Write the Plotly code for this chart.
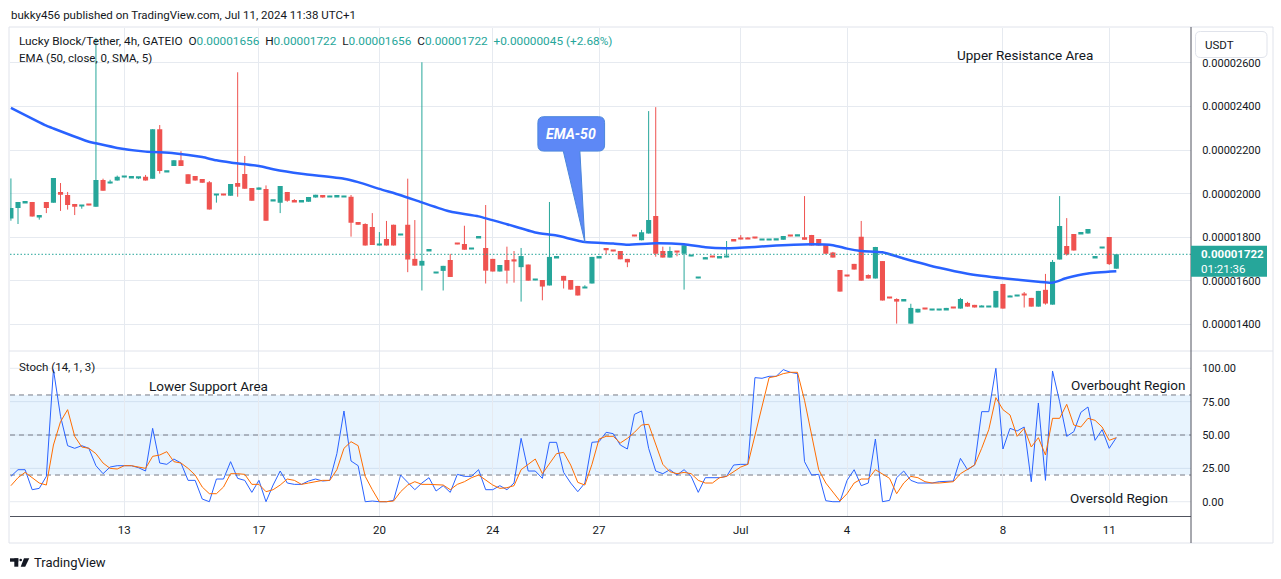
import plotly.graph_objects as go

W, H = 1281, 579
UNIT = 1e-8  # prices below are in units of 0.00000001 USDT

# ---------------- 4h candles (Lucky Block / Tether) ----------------
opens = [1886, 1934, 1959, 1962, 1895, 1962, 1959, 2008, 1994, 1953,
         1944, 1948, 1940, 2063, 2048, 2060, 2075, 2074, 2073, 2078,
         2069, 2296, 2101, 2127, 2154, 2089, 2081, 2067, 2053, 1994,
         1995, 1991, 2049, 2090, 2026, 2018, 2021, 1967, 1959, 2008,
         1971, 1964, 1963, 1982, 1994, 1985, 1987, 1985, 1986, 1870,
         1861, 1847, 1764, 1792, 1858, 1810, 1858, 1701, 1670, 1739,
         1634, 1646, 1696, 1769, 1769, 1746, 1799, 1751, 1701, 1643,
         1696, 1693, 1663, 1675, 1603, 1604, 1579, 1707, 1623, 1604,
         1577, 1567, 1588, 1707, 1751, 1737, 1737, 1701, 1806, 1786,
         1817, 1898, 1737, 1707, 1732, 1725, 1712, 1611, 1702, 1709,
         1707, 1708, 1792, 1796, 1793, 1796, 1788, 1788, 1789, 1789,
         1806, 1807, 1800, 1811, 1792, 1769, 1730, 1650, 1622, 1678,
         1802, 1627, 1611, 1691, 1521, 1517, 1510, 1404, 1455, 1471,
         1465, 1465, 1468, 1476, 1473, 1499, 1490, 1480, 1480, 1478,
         1586, 1526, 1530, 1535, 1522, 1482, 1559, 1491, 1698, 1760,
         1815, 1817, 1817, 1707, 1749, 1801, 1656]
highs = [2070, 1962, 1961, 1962, 1902, 1962, 2072, 2049, 2008, 1953,
         1947, 1948, 2715, 2069, 2064, 2083, 2077, 2075, 2075, 2086,
         2296, 2315, 2102, 2154, 2195, 2089, 2081, 2067, 2058, 1997,
         1999, 2044, 2557, 2173, 2026, 2029, 2038, 1968, 2035, 2008,
         1975, 1965, 1985, 1995, 1994, 1990, 1988, 1990, 1994, 1870,
         1864, 1911, 1824, 1875, 1858, 1811, 2069, 1879, 2603, 1740,
         1635, 1669, 1724, 1769, 1853, 1747, 1800, 1948, 1701, 1673,
         1757, 1737, 1751, 1675, 1604, 1604, 1962, 1708, 1623, 1604,
         1577, 1580, 1710, 1708, 1751, 1737, 1737, 1701, 1806, 1834,
         2379, 2397, 1757, 1757, 1732, 1763, 1713, 1612, 1709, 1709,
         1708, 1783, 1792, 1810, 1800, 1800, 1789, 1789, 1790, 1806,
         1806, 1811, 1989, 1811, 1792, 1769, 1733, 1650, 1625, 1678,
         1875, 1630, 1756, 1691, 1521, 1520, 1511, 1495, 1472, 1471,
         1466, 1466, 1476, 1479, 1522, 1504, 1490, 1488, 1485, 1554,
         1586, 1533, 1531, 1549, 1522, 1554, 1632, 1696, 1989, 1888,
         1815, 1818, 1838, 1708, 1750, 1801, 1722]
lows = [1876, 1861, 1959, 1895, 1881, 1911, 1959, 1921, 1927, 1902,
        1931, 1947, 1940, 2014, 2047, 2060, 2075, 2074, 2067, 2060,
        2069, 2092, 2101, 2127, 2127, 2046, 2060, 2050, 1927, 1959,
        1993, 1991, 1986, 2023, 1968, 2018, 1876, 1967, 1911, 1963,
        1963, 1964, 1963, 1982, 1982, 1985, 1987, 1985, 1803, 1858,
        1762, 1765, 1762, 1762, 1762, 1810, 1640, 1670, 1556, 1739,
        1634, 1556, 1618, 1768, 1743, 1746, 1799, 1588, 1643, 1643,
        1588, 1592, 1505, 1601, 1603, 1511, 1579, 1707, 1565, 1560,
        1533, 1567, 1588, 1707, 1722, 1736, 1699, 1663, 1805, 1786,
        1817, 1711, 1707, 1707, 1713, 1560, 1712, 1611, 1702, 1708,
        1707, 1708, 1785, 1790, 1792, 1795, 1788, 1788, 1789, 1789,
        1805, 1807, 1789, 1762, 1762, 1725, 1707, 1551, 1621, 1652,
        1601, 1611, 1611, 1510, 1520, 1404, 1510, 1404, 1455, 1470,
        1465, 1465, 1468, 1475, 1473, 1482, 1478, 1480, 1480, 1478,
        1473, 1526, 1530, 1478, 1482, 1482, 1491, 1491, 1698, 1716,
        1739, 1817, 1817, 1707, 1749, 1673, 1656]
closes = [1934, 1962, 1960, 1895, 1902, 1934, 2072, 1995, 1948, 1940,
          1947, 1947, 2063, 2014, 2050, 2078, 2077, 2075, 2075, 2060,
          2296, 2104, 2102, 2154, 2127, 2046, 2060, 2050, 1927, 1997,
          1993, 2044, 2032, 2023, 1968, 2029, 1876, 1968, 2035, 1968,
          1963, 1965, 1985, 1995, 1982, 1986, 1988, 1986, 1867, 1858,
          1762, 1765, 1765, 1762, 1762, 1811, 1698, 1670, 1692, 1740,
          1635, 1669, 1618, 1768, 1743, 1747, 1800, 1647, 1643, 1673,
          1647, 1692, 1714, 1601, 1604, 1574, 1710, 1708, 1601, 1560,
          1533, 1568, 1710, 1708, 1740, 1736, 1699, 1685, 1805, 1823,
          1879, 1725, 1707, 1737, 1731, 1763, 1713, 1612, 1709, 1708,
          1708, 1713, 1785, 1790, 1792, 1795, 1789, 1789, 1790, 1806,
          1805, 1808, 1789, 1762, 1762, 1725, 1707, 1551, 1621, 1652,
          1601, 1611, 1756, 1510, 1520, 1505, 1511, 1476, 1472, 1470,
          1466, 1466, 1476, 1475, 1517, 1482, 1478, 1481, 1481, 1554,
          1473, 1527, 1531, 1534, 1482, 1554, 1496, 1687, 1852, 1721,
          1739, 1818, 1838, 1708, 1750, 1677, 1722]

# EMA(50) at a set of bars
ema_idx = [0, 5, 6, 11, 12, 15, 19, 23, 27, 29, 31, 35, 37, 41, 47, 49, 52, 55,
           58, 62, 66, 70, 74, 77, 81, 85, 87, 91, 95, 98, 101, 105, 108, 113,
           116, 118, 120, 123, 126, 131, 135, 140, 145, 147, 149, 152, 156]
ema_val = [2394, 2312, 2299, 2238, 2231, 2210, 2193, 2186, 2168, 2153, 2143,
           2127, 2112, 2091, 2069, 2053, 2022, 1993, 1960, 1918, 1896, 1860,
           1822, 1808, 1778, 1771, 1766, 1773, 1768, 1754, 1750, 1756, 1762,
           1768, 1764, 1748, 1737, 1731, 1703, 1660, 1633, 1612, 1596, 1592,
           1613, 1634, 1644]

# Stochastic (14, 1, 3)
stoch_k = [19, 24, 24, 9, 10, 19, 99, 64, 42, 40, 42, 40, 27, 21, 26, 27, 27, 27,
           25.5, 23, 55, 29, 28, 32, 29, 16, 16, 2, 0, 17, 17, 30, 17.5, 16, 7,
           16, 0, 12.5, 23, 14, 13, 13, 15.5, 17, 15.5, 16, 36, 68, 30.5, 27, 0,
           0.5, 0, 0, 1, 20, 14.5, 9, 14, 18, 8, 12, 7, 20.5, 19, 19, 24, 9, 9,
           12, 9, 14, 47.5, 23, 23, 17.5, 44.5, 44.5, 22, 14, 7.5, 14, 44.5, 45,
           52, 51, 42.5, 39.5, 65.5, 68, 40, 23, 21, 24, 20, 24, 19, 7, 18, 18,
           18, 19, 27.5, 28, 28, 93, 92.5, 94, 94, 99, 97, 96, 30, 20, 20.5,
           0.75, 0, 0, 16, 24, 12, 14, 47, 0, 1, 18, 23, 16, 14, 14, 14, 15,
           15.5, 15.5, 32.5, 24, 27.5, 67.5, 67.5, 100, 39.5, 55, 53, 56, 15,
           74, 16, 98, 75, 49, 52.5, 67, 71, 46, 54, 40, 48]
stoch_d = [12, 18, 22, 18, 14, 12.5, 42.5, 60, 69, 49, 41, 40, 36, 29, 25, 24.5,
           27, 27, 26, 25, 34, 35, 37.5, 30, 29, 25, 20, 11, 6, 6, 11, 21, 21,
           20.5, 13, 13, 7.5, 9, 12.5, 17, 16, 13, 14, 15, 16, 16, 24, 40, 45,
           42, 19, 9, 0, 0, 0.5, 7.5, 12.5, 15, 13, 13, 13, 12.5, 9, 13, 15, 18,
           20, 16, 12.5, 10, 10.5, 12, 24, 28, 32, 21, 29, 36, 37, 27.5, 14.5,
           12.5, 28, 47, 49, 49, 44, 47.5, 52, 57.5, 58, 42.5, 28, 22.5, 21, 22,
           21, 16, 14, 14, 18, 19, 22.5, 26, 28, 50, 72.5, 93, 94, 96, 97, 97,
           76, 49, 24, 14, 7.5, 0.5, 6, 14, 17, 17, 24, 21, 17.5, 6, 14, 19, 18,
           15, 14, 14, 14.5, 15, 21, 24, 27.5, 40, 54, 78, 69, 65, 49, 55, 41,
           48, 35, 62.5, 62.5, 73, 57.5, 56, 62.5, 61, 56, 46, 48]

date_idx = [16, 35, 52, 68, 83, 103, 118, 140, 155]
date_lbl = ["13", "17", "20", "24", "27", "Jul", "4", "8", "11"]
price_ticks = [1400, 1600, 1800, 2000, 2200, 2400, 2600]
stoch_ticks = [0, 25, 50, 75, 100]
stoch_levels = [20, 50, 80]
countdown = "01:21:36"

# ---------------- styling ----------------
UP, DN = "#26a69a", "#ef5350"
BLUE, ORANGE = "#2962ff", "#ff6d00"
GRID = "#e6eaf0"
TXT = "#131722"
FONT = "Roboto"
MIN_BODY = 7  # doji bodies drawn at least this tall (price units)


def px(x):
    return x / W


def py(y):
    return 1 - y / H


def rrect(x0, y0, x1, y1, r):
    pts = [("M", [(x0 + r, y0)]), ("L", [(x1 - r, y0)]), ("Q", [(x1, y0), (x1, y0 + r)]),
           ("L", [(x1, y1 - r)]), ("Q", [(x1, y1), (x1 - r, y1)]), ("L", [(x0 + r, y1)]),
           ("Q", [(x0, y1), (x0, y1 - r)]), ("L", [(x0, y0 + r)]), ("Q", [(x0, y0), (x0 + r, y0)])]
    s = ""
    for cmd, plist in pts:
        s += cmd + " " + " ".join(f"{px(a):.6f},{py(b):.6f}" for a, b in plist) + " "
    return s + "Z"


n = len(opens)
idx = list(range(n))
is_up = [c >= o for o, c in zip(opens, closes)]
colors = [UP if u else DN for u in is_up]
bases = [min(o, c) * UNIT for o, c in zip(opens, closes)]
heights = [max(abs(c - o), MIN_BODY) * UNIT for o, c in zip(opens, closes)]

fig = go.Figure()

for flag, col in ((True, UP), (False, DN)):
    wx, wy = [], []
    for i in idx:
        if is_up[i] == flag:
            wx += [i, i, None]
            wy += [lows[i] * UNIT, highs[i] * UNIT, None]
    fig.add_trace(go.Scatter(x=wx, y=wy, mode="lines", line=dict(color=col, width=1),
                             hoverinfo="skip", xaxis="x", yaxis="y"))

fig.add_trace(go.Bar(x=idx, y=heights, base=bases, width=0.72,
                     marker=dict(color=colors, line=dict(width=0)), xaxis="x", yaxis="y"))

fig.add_trace(go.Scatter(x=ema_idx, y=[v * UNIT for v in ema_val], mode="lines",
                         line=dict(color=BLUE, width=2.5, shape="spline", smoothing=0.5),
                         xaxis="x", yaxis="y"))

fig.add_trace(go.Scatter(x=idx, y=stoch_k, mode="lines", line=dict(color=BLUE, width=1),
                         xaxis="x2", yaxis="y2"))
fig.add_trace(go.Scatter(x=idx, y=stoch_d, mode="lines", line=dict(color=ORANGE, width=1),
                         xaxis="x2", yaxis="y2"))

XR = [-0.13, 166.54]
XD = [px(10), px(1191)]
axis_font = dict(family=FONT, size=11, color=TXT)

fig.update_layout(
    width=W, height=H, margin=dict(l=0, r=0, t=0, b=0),
    paper_bgcolor="white", plot_bgcolor="white", showlegend=False,
    barmode="overlay",
    xaxis=dict(domain=XD, range=XR, anchor="y", tickvals=date_idx, showticklabels=False,
               showgrid=True, gridcolor=GRID, zeroline=False, ticks=""),
    xaxis2=dict(domain=XD, range=XR, anchor="y2", tickvals=date_idx, ticktext=date_lbl,
                showgrid=True, gridcolor=GRID, zeroline=False, ticks="outside", ticklen=3,
                tickcolor="rgba(0,0,0,0)", showline=True, linecolor="#50535e", linewidth=1,
                tickfont=dict(family=FONT, size=11.5, color=TXT)),
    yaxis=dict(domain=[py(351), py(27.5)], range=[12.784e-6, 27.624e-6], anchor="x",
               side="right", tickvals=[t * UNIT for t in price_ticks], tickformat=".8f",
               showgrid=True, gridcolor=GRID, zeroline=False, ticks="outside", ticklen=8,
               tickcolor="rgba(0,0,0,0)", tickfont=axis_font),
    yaxis2=dict(domain=[py(515.7), py(351)], range=[-10.49, 112.97], anchor="x2",
                side="right", tickvals=stoch_ticks, tickformat=".2f",
                showgrid=False, zeroline=False, ticks="outside", ticklen=8,
                tickcolor="rgba(0,0,0,0)", tickfont=axis_font),
)

shapes = []
# stochastic gridlines, band and levels (all beneath the lines)
for t in stoch_ticks:
    shapes.append(dict(type="line", xref="x2 domain", x0=0, x1=1, yref="y2", y0=t, y1=t,
                       line=dict(color=GRID, width=1), layer="below"))
shapes.append(dict(type="rect", xref="x2 domain", x0=0, x1=1, yref="y2",
                   y0=stoch_levels[0], y1=stoch_levels[-1],
                   fillcolor="rgba(33,150,243,0.1)", line=dict(width=0), layer="below"))
for lv in stoch_levels:
    shapes.append(dict(type="line", xref="x2 domain", x0=0, x1=1, yref="y2", y0=lv, y1=lv,
                       line=dict(color="#787b86", width=1, dash="5px,4px"), layer="below"))
# last price dotted line
last = closes[-1] * UNIT
shapes.append(dict(type="line", xref="x domain", x0=0, x1=1, yref="y", y0=last, y1=last,
                   line=dict(color=UP, width=1, dash="1.5px,2px"), layer="above"))
# frame lines
shapes.append(dict(type="rect", xref="paper", yref="paper", x0=px(9), x1=px(1273),
                   y0=py(543), y1=py(27), line=dict(color="#e0e3eb", width=1)))
shapes.append(dict(type="line", xref="paper", yref="paper", x0=px(9), x1=px(1273),
                   y0=py(351), y1=py(351), line=dict(color="#e0e3eb", width=1)))
shapes.append(dict(type="line", xref="paper", yref="paper", x0=px(1191), x1=px(1191),
                   y0=py(543), y1=py(27), line=dict(color="#50535e", width=1)))
# USDT box
shapes.append(dict(type="path", xref="paper", yref="paper", path=rrect(1195.5, 31.5, 1267, 57.5, 5),
                   fillcolor="white", line=dict(color="#e0e3eb", width=1), layer="above"))
# last price label box
shapes.append(dict(type="rect", xref="paper", x0=px(1191), x1=px(1267), yref="y",
                   ysizemode="pixel", yanchor=last, y0=-22.5, y1=8.5,
                   fillcolor=UP, line=dict(width=0), layer="above"))
# EMA-50 callout (pixel offsets from the tip on the EMA line)
ci = ema_idx.index(81)
tip_x, tip_y = ema_idx[ci], ema_val[ci] * UNIT
L_, R_, B_, T_, r = -47, 19.7, 91, 125.4, 6
callout = (f"M {L_ + r},{T_} L {R_ - r},{T_} Q {R_},{T_} {R_},{T_ - r} L {R_},{B_ + r} "
           f"Q {R_},{B_} {R_ - r},{B_} L -5,{B_} L 0,0 L -21.6,{B_} L {L_ + r},{B_} "
           f"Q {L_},{B_} {L_},{B_ + r} L {L_},{T_ - r} Q {L_},{T_} {L_ + r},{T_} Z")
shapes.append(dict(type="path", xref="x", yref="y", xsizemode="pixel", ysizemode="pixel",
                   xanchor=tip_x, yanchor=tip_y, path=callout,
                   fillcolor="#5d88f6", line=dict(color="#4a86dc", width=1), layer="above"))
# TradingView logo
shapes.append(dict(type="rect", xref="paper", yref="paper", x0=px(10), x1=px(18.3),
                   y0=py(561.7), y1=py(558.3), fillcolor="#131722", line=dict(width=0)))
shapes.append(dict(type="rect", xref="paper", yref="paper", x0=px(14.3), x1=px(18.3),
                   y0=py(566.7), y1=py(558.3), fillcolor="#131722", line=dict(width=0)))
shapes.append(dict(type="circle", xref="paper", yref="paper", x0=px(19.4), x1=px(22),
                   y0=py(561.3), y1=py(558.7), fillcolor="#131722", line=dict(width=0)))
shapes.append(dict(type="path", xref="paper", yref="paper",
                   path=f"M {px(24):.6f},{py(558.3):.6f} L {px(29.3):.6f},{py(558.3):.6f} "
                        f"L {px(25.2):.6f},{py(566.7):.6f} L {px(20.7):.6f},{py(566.7):.6f} Z",
                   fillcolor="#131722", line=dict(width=0)))
fig.update_layout(shapes=shapes)

NB = "\u00a0"
tc = lambda s: f'<span style="color:{UP}">{s}</span>'
fmt = lambda v: f"{v * UNIT:.8f}"
chg = closes[-1] - closes[-2]
pct = chg / closes[-2] * 100
legend = ("Lucky Block/Tether, 4h, GATEIO" + NB * 2 +
          "O" + tc(fmt(opens[-1])) + NB * 2 + "H" + tc(fmt(highs[-1])) + NB * 2 +
          "L" + tc(fmt(lows[-1])) + NB * 2 + "C" + tc(fmt(closes[-1])) + NB * 2 +
          tc(f"+{fmt(chg)} (+{pct:.2f}%)"))


def note(text, x, y, size=11.5, color=TXT, xanchor="left", **kw):
    d = dict(text=text, xref="paper", yref="paper", x=px(x), y=py(y), xanchor=xanchor,
             yanchor="middle", showarrow=False, font=dict(family=FONT, size=size, color=color))
    d.update(kw)
    return d


annos = [
    note("bukky456 published on TradingView.com, Jul 11, 2024 11:38 UTC+1", 9, 15, size=11.5),
    note(legend, 17, 41, size=11.8),
    note("EMA (50, close, 0, SMA, 5)", 17, 58, size=11.5),
    note("Stoch (14, 1, 3)", 17, 367, size=11.5),
    note("Upper Resistance Area", 1025, 55, size=13.5, xanchor="center"),
    note("Lower Support Area", 209, 386, size=13.5, xanchor="center"),
    note("Overbought Region", 1128, 385, size=13.5, xanchor="center"),
    note("Oversold Region", 1119, 498, size=13.5, xanchor="center"),
    note("USDT", 1203, 45, size=11.5),
    note("TradingView", 32, 562, size=13),
    dict(text=f"<b>{fmt(closes[-1])}</b>", xref="paper", x=px(1199), xanchor="left",
         yref="y", y=last, yanchor="middle", showarrow=False,
         font=dict(family=FONT, size=11.5, color="white")),
    dict(text=countdown, xref="paper", x=px(1199), xanchor="left",
         yref="y", y=last, yanchor="middle", yshift=-15, showarrow=False,
         font=dict(family=FONT, size=11.5, color="white")),
    dict(text="<b><i>EMA-50</i></b>", xref="x", yref="y", x=tip_x, y=tip_y,
         xshift=-13.6, yshift=108, showarrow=False,
         font=dict(family=FONT, size=14, color="white")),
]
fig.update_layout(annotations=annos)

fig.write_html("out.html")
